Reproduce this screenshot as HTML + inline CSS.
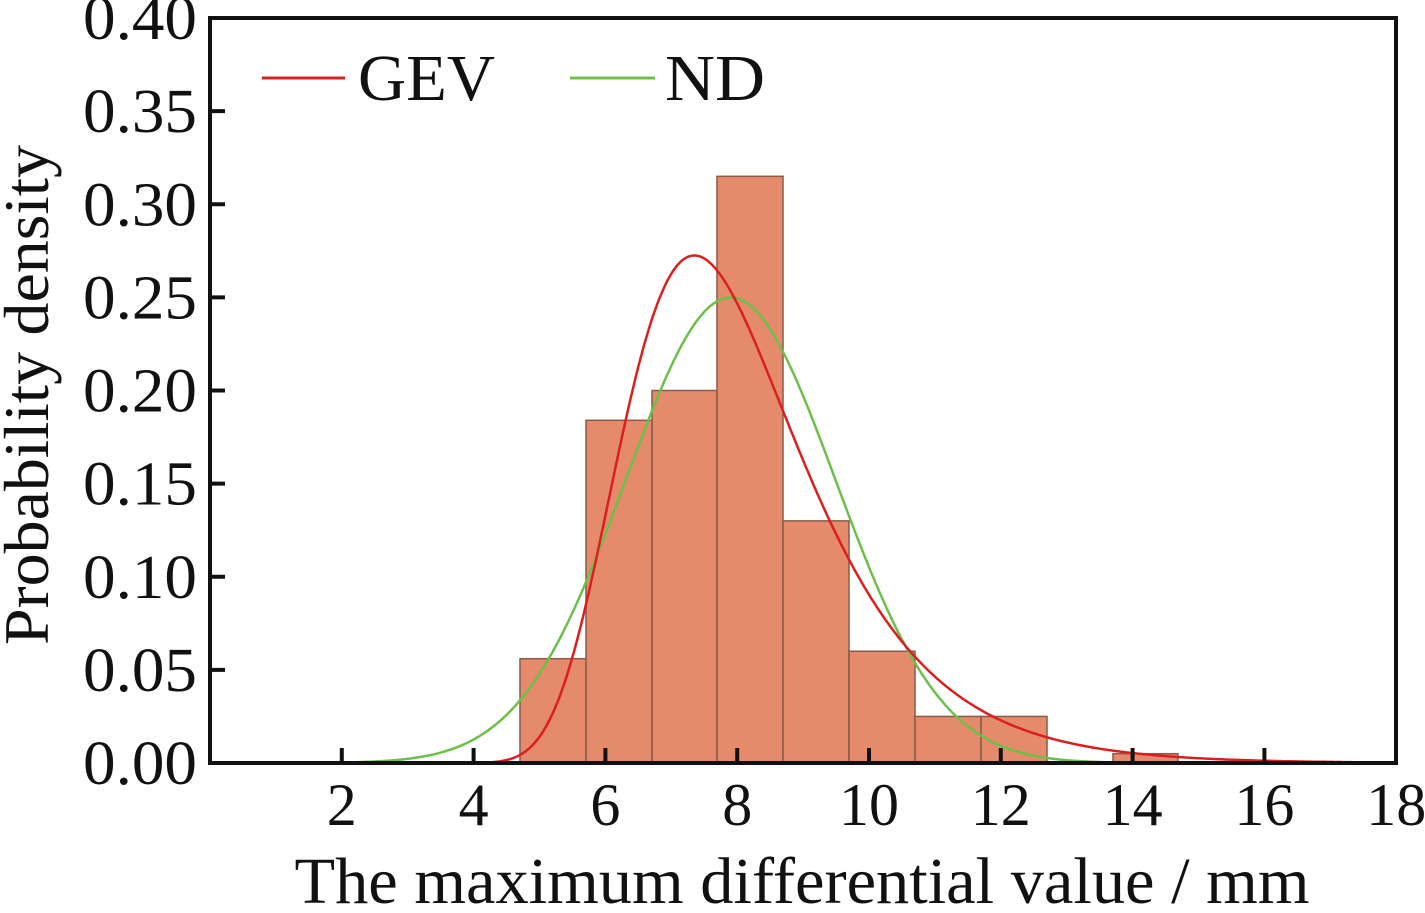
<!DOCTYPE html>
<html><head><style>body{margin:0;background:#fff}</style></head><body>
<svg width="1425" height="908" xmlns="http://www.w3.org/2000/svg" font-family="'Liberation Serif',serif">
<g id="bars" fill="#e58b6c" stroke="#8a5a4a" stroke-width="1.5"></g>
<path id="nd" fill="none" stroke="#6cc04a" stroke-width="2.5"/>
<path id="gev" fill="none" stroke="#d92020" stroke-width="2.5"/>
<rect x="210" y="18" width="1186" height="745" fill="none" stroke="#111" stroke-width="4"/>
<g id="ticks" stroke="#111" stroke-width="4"></g>
<g font-size="62" fill="#111" text-anchor="end" id="yl"></g>
<g font-size="60" fill="#111" text-anchor="middle" id="xl"></g>
<text x="802" y="903" font-size="66" text-anchor="middle" fill="#111" textLength="1015" lengthAdjust="spacingAndGlyphs">The maximum differential value / mm</text>
<text transform="translate(48,395) rotate(-90)" font-size="64" text-anchor="middle" fill="#111" textLength="500" lengthAdjust="spacingAndGlyphs">Probability density</text>
<line x1="262" y1="78" x2="345" y2="78" stroke="#d92020" stroke-width="3"/>
<text x="358" y="100" font-size="66" fill="#111" textLength="137" lengthAdjust="spacingAndGlyphs">GEV</text>
<line x1="570" y1="78" x2="655" y2="78" stroke="#6cc04a" stroke-width="3"/>
<text x="665" y="100" font-size="66" fill="#111" textLength="100" lengthAdjust="spacingAndGlyphs">ND</text>
<script>
const X=x=>210+x*65.9,Y=v=>763-v*1862.5,ns="http://www.w3.org/2000/svg";
function el(p,t,a){const e=document.createElementNS(ns,t);for(const k in a)e.setAttribute(k,a[k]);document.getElementById(p).appendChild(e);return e}
const edges=[520,586,652,717,783,849,915,981,1047,1113,1178];
const h=[0.056,0.184,0.2,0.315,0.13,0.06,0.025,0.025,0,0.005];
h.forEach((v,i)=>{if(v>0)el("bars","rect",{x:edges[i],y:Y(v),width:edges[i+1]-edges[i],height:763-Y(v)})});
let a="",b="";
for(let x=0;x<=18;x+=0.02){
 const s=1.596,m=7.9,n=Math.exp(-((x-m)**2)/(2*s*s))/(s*2.5066);
 const sg=1.35,z=(x-7.35)/sg,t=Math.exp(-z),g=t*Math.exp(-t)/sg;
 a+=(a?"L":"M")+X(x).toFixed(1)+","+Y(n).toFixed(1);
 b+=(b?"L":"M")+X(x).toFixed(1)+","+Y(g).toFixed(1);
}
document.getElementById("nd").setAttribute("d",a);
document.getElementById("gev").setAttribute("d",b);
for(let i=0;i<=8;i++){const v=i*0.05,y=Y(v);
 el("yl","text",{x:197,y:y+21,textLength:114,lengthAdjust:"spacingAndGlyphs"}).textContent=v.toFixed(2);
 if(i>0&&i<8)el("ticks","line",{x1:210,y1:y,x2:225,y2:y});}
for(let k=2;k<=18;k+=2){const x=X(k);
 el("xl","text",{x:x,y:825}).textContent=k;
 if(k<18)el("ticks","line",{x1:x,y1:763,x2:x,y2:748});}
</script>
</svg>
</body></html>
